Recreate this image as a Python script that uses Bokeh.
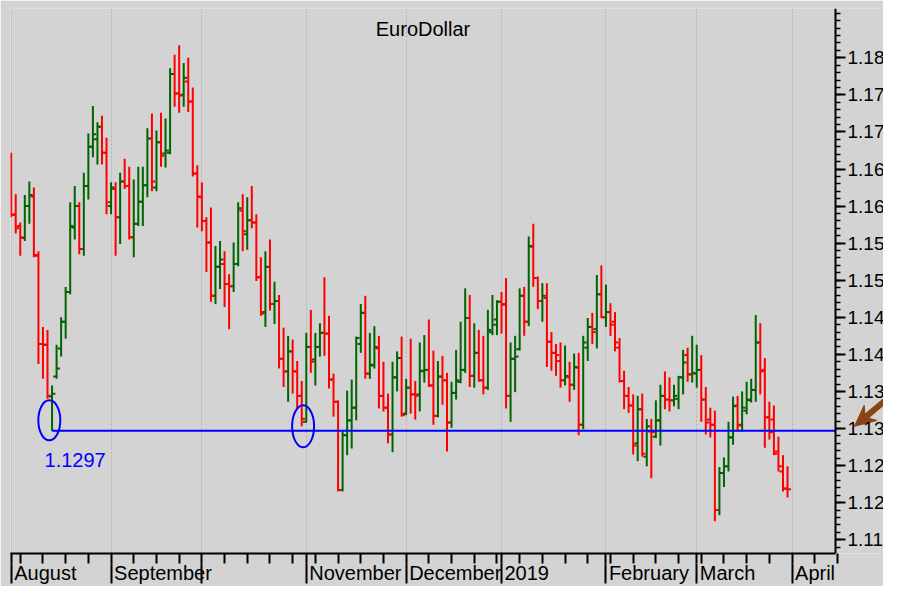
import numpy as np
import pandas as pd
from bokeh.plotting import figure
from bokeh.models import (Range1d, LinearAxis, FixedTicker, Grid, Label, ColumnDataSource)
from bokeh.embed import file_html
from bokeh.resources import INLINE

# ---------------- data ----------------
title_text = "EuroDollar"
first_day = "2018-08-02"

opens = [1.1667, 1.1589, 1.1573, 1.1557, 1.1600, 1.1613, 1.1533, 1.1414, 1.1413, 1.1343,
         1.1370, 1.1408, 1.1444, 1.1484, 1.1571, 1.1600, 1.1542, 1.1627, 1.1680, 1.1690,
         1.1707, 1.1672, 1.1600, 1.1623, 1.1585, 1.1633, 1.1627, 1.1558, 1.1576, 1.1606,
         1.1628, 1.1691, 1.1625, 1.1686, 1.1671, 1.1672, 1.1778, 1.1752, 1.1750, 1.1768,
         1.1741, 1.1644, 1.1612, 1.1580, 1.1551, 1.1479, 1.1518, 1.1522, 1.1495, 1.1492,
         1.1522, 1.1594, 1.1562, 1.1581, 1.1578, 1.1504, 1.1457, 1.1518, 1.1468, 1.1472,
         1.1394, 1.1377, 1.1404, 1.1377, 1.1344, 1.1309, 1.1410, 1.1393, 1.1410, 1.1429,
         1.1428, 1.1366, 1.1336, 1.1217, 1.1291, 1.1311, 1.1328, 1.1414, 1.1456, 1.1374,
         1.1385, 1.1408, 1.1344, 1.1328, 1.1292, 1.1369, 1.1395, 1.1320, 1.1355, 1.1346,
         1.1346, 1.1378, 1.1379, 1.1358, 1.1317, 1.1370, 1.1365, 1.1308, 1.1348, 1.1363,
         1.1379, 1.1449, 1.1371, 1.1402, 1.1365, 1.1355, 1.1430, 1.1447, 1.1471, 1.1468,
         1.1344, 1.1394, 1.1407, 1.1479, 1.1444, 1.1545, 1.1503, 1.1472, 1.1476, 1.1417,
         1.1402, 1.1391, 1.1365, 1.1369, 1.1359, 1.1382, 1.1305, 1.1409, 1.1437, 1.1434,
         1.1481, 1.1450, 1.1457, 1.1444, 1.1409, 1.1364, 1.1344, 1.1331, 1.1280, 1.1326,
         1.1262, 1.1296, 1.1289, 1.1311, 1.1344, 1.1339, 1.1338, 1.1340, 1.1369, 1.1399,
         1.1373, 1.1374, 1.1379, 1.1339, 1.1312, 1.1305, 1.1190, 1.1240, 1.1249, 1.1288,
         1.1331, 1.1305, 1.1324, 1.1338, 1.1352, 1.1416, 1.1379, 1.1315, 1.1312, 1.1269,
         1.1242, 1.1219]
highs = [1.1672, 1.1616, 1.1578, 1.1615, 1.1633, 1.1625, 1.1539, 1.1437, 1.1433, 1.1358,
         1.1413, 1.1450, 1.1491, 1.1605, 1.1627, 1.1605, 1.1645, 1.1698, 1.1735, 1.1713,
         1.1722, 1.1692, 1.1632, 1.1632, 1.1645, 1.1664, 1.1653, 1.1636, 1.1653, 1.1653,
         1.1705, 1.1725, 1.1702, 1.1726, 1.1718, 1.1786, 1.1804, 1.1817, 1.1793, 1.1800,
         1.1760, 1.1655, 1.1632, 1.1585, 1.1598, 1.1546, 1.1553, 1.1539, 1.1508, 1.1551,
         1.1605, 1.1616, 1.1612, 1.1627, 1.1589, 1.1531, 1.1539, 1.1555, 1.1498, 1.1480,
         1.1436, 1.1425, 1.1420, 1.1391, 1.1364, 1.1429, 1.1460, 1.1429, 1.1442, 1.1504,
         1.1452, 1.1374, 1.1338, 1.1296, 1.1351, 1.1366, 1.1424, 1.1468, 1.1479, 1.1429,
         1.1438, 1.1425, 1.1390, 1.1347, 1.1390, 1.1404, 1.1424, 1.1367, 1.1421, 1.1364,
         1.1416, 1.1426, 1.1447, 1.1405, 1.1391, 1.1398, 1.1375, 1.1363, 1.1406, 1.1444,
         1.1489, 1.1480, 1.1442, 1.1433, 1.1425, 1.1460, 1.1480, 1.1473, 1.1484, 1.1503,
         1.1416, 1.1425, 1.1489, 1.1491, 1.1559, 1.1576, 1.1505, 1.1496, 1.1496, 1.1430,
         1.1414, 1.1416, 1.1412, 1.1390, 1.1401, 1.1402, 1.1425, 1.1449, 1.1456, 1.1507,
         1.1520, 1.1494, 1.1469, 1.1457, 1.1422, 1.1378, 1.1356, 1.1346, 1.1344, 1.1347,
         1.1313, 1.1313, 1.1338, 1.1359, 1.1377, 1.1369, 1.1359, 1.1371, 1.1406, 1.1409,
         1.1425, 1.1413, 1.1399, 1.1356, 1.1328, 1.1324, 1.1248, 1.1261, 1.1309, 1.1343,
         1.1344, 1.1350, 1.1363, 1.1367, 1.1453, 1.1442, 1.1395, 1.1336, 1.1331, 1.1289,
         1.1264, 1.1249]
lows = [1.1585, 1.1563, 1.1533, 1.1553, 1.1576, 1.1531, 1.1387, 1.1367, 1.1340, 1.1297,
        1.1367, 1.1397, 1.1421, 1.1481, 1.1555, 1.1535, 1.1533, 1.1609, 1.1666, 1.1656,
        1.1656, 1.1589, 1.1589, 1.1533, 1.1549, 1.1623, 1.1555, 1.1531, 1.1573, 1.1573,
        1.1612, 1.1620, 1.1620, 1.1653, 1.1652, 1.1670, 1.1734, 1.1726, 1.1734, 1.1727,
        1.1640, 1.1571, 1.1566, 1.1511, 1.1471, 1.1468, 1.1488, 1.1464, 1.1434, 1.1484,
        1.1519, 1.1539, 1.1541, 1.1570, 1.1499, 1.1452, 1.1437, 1.1459, 1.1441, 1.1381,
        1.1356, 1.1336, 1.1347, 1.1327, 1.1303, 1.1308, 1.1375, 1.1358, 1.1397, 1.1398,
        1.1354, 1.1316, 1.1215, 1.1215, 1.1264, 1.1273, 1.1311, 1.1402, 1.1367, 1.1367,
        1.1381, 1.1327, 1.1323, 1.1280, 1.1268, 1.1350, 1.1316, 1.1318, 1.1320, 1.1312,
        1.1323, 1.1362, 1.1356, 1.1305, 1.1315, 1.1332, 1.1269, 1.1301, 1.1339, 1.1361,
        1.1375, 1.1356, 1.1355, 1.1363, 1.1346, 1.1352, 1.1426, 1.1426, 1.1428, 1.1327,
        1.1309, 1.1349, 1.1405, 1.1425, 1.1438, 1.1491, 1.1461, 1.1444, 1.1383, 1.1378,
        1.1371, 1.1355, 1.1358, 1.1336, 1.1352, 1.1291, 1.1299, 1.1391, 1.1414, 1.1408,
        1.1449, 1.1437, 1.1425, 1.1404, 1.1362, 1.1326, 1.1321, 1.1265, 1.1256, 1.1262,
        1.1249, 1.1233, 1.1287, 1.1277, 1.1326, 1.1323, 1.1330, 1.1326, 1.1346, 1.1363,
        1.1362, 1.1355, 1.1309, 1.1292, 1.1288, 1.1175, 1.1183, 1.1221, 1.1242, 1.1278,
        1.1296, 1.1296, 1.1319, 1.1335, 1.1336, 1.1346, 1.1274, 1.1285, 1.1264, 1.1242,
        1.1215, 1.1207]
closes = [1.1588, 1.1570, 1.1558, 1.1600, 1.1615, 1.1534, 1.1414, 1.1413, 1.1344, 1.1347,
          1.1381, 1.1444, 1.1484, 1.1573, 1.1600, 1.1542, 1.1627, 1.1680, 1.1697, 1.1707,
          1.1672, 1.1605, 1.1625, 1.1585, 1.1633, 1.1627, 1.1558, 1.1576, 1.1606, 1.1628,
          1.1691, 1.1633, 1.1686, 1.1668, 1.1675, 1.1778, 1.1752, 1.1749, 1.1773, 1.1741,
          1.1644, 1.1613, 1.1580, 1.1551, 1.1479, 1.1518, 1.1528, 1.1495, 1.1492, 1.1522,
          1.1597, 1.1566, 1.1581, 1.1578, 1.1504, 1.1455, 1.1518, 1.1468, 1.1472, 1.1394,
          1.1377, 1.1404, 1.1377, 1.1344, 1.1313, 1.1410, 1.1390, 1.1410, 1.1429, 1.1428,
          1.1366, 1.1336, 1.1217, 1.1291, 1.1311, 1.1328, 1.1422, 1.1456, 1.1374, 1.1386,
          1.1410, 1.1344, 1.1328, 1.1292, 1.1369, 1.1395, 1.1318, 1.1355, 1.1346, 1.1344,
          1.1377, 1.1379, 1.1358, 1.1317, 1.1370, 1.1365, 1.1308, 1.1348, 1.1365, 1.1379,
          1.1449, 1.1371, 1.1402, 1.1365, 1.1355, 1.1433, 1.1440, 1.1471, 1.1467, 1.1344,
          1.1394, 1.1397, 1.1479, 1.1444, 1.1546, 1.1503, 1.1472, 1.1479, 1.1417, 1.1402,
          1.1399, 1.1365, 1.1371, 1.1359, 1.1383, 1.1305, 1.1416, 1.1437, 1.1430, 1.1481,
          1.1450, 1.1457, 1.1440, 1.1416, 1.1364, 1.1344, 1.1331, 1.1277, 1.1326, 1.1266,
          1.1303, 1.1295, 1.1311, 1.1344, 1.1339, 1.1338, 1.1344, 1.1369, 1.1389, 1.1373,
          1.1375, 1.1379, 1.1339, 1.1308, 1.1305, 1.1190, 1.1240, 1.1249, 1.1288, 1.1330,
          1.1304, 1.1328, 1.1339, 1.1352, 1.1416, 1.1377, 1.1315, 1.1295, 1.1266, 1.1249,
          1.1219, 1.1218]

support_level = 1.1297
support_text = "1.1297"
support_from_bar = 9
circle_x = [8.4, 64.3]
circle_y = [1.1311, 1.1303]
circle_h = [40, 42]
arrow_price = 1.1303

month_labels = ["August", "September", "", "November", "December", "2019",
                "February", "March", "April"]
y_tick_values = [1.115, 1.12, 1.125, 1.13, 1.135, 1.14, 1.145, 1.15, 1.155,
                 1.16, 1.165, 1.17, 1.175, 1.18]
y_tick_labels = ["1.11", "1.12", "1.12", "1.13", "1.13", "1.14", "1.14", "1.15", "1.15",
                 "1.16", "1.16", "1.17", "1.17", "1.18"]

# ---------------- style / layout ----------------
UP, DOWN = "#006400", "#FF0000"
BG = "#D3D3D3"
BLUE = "#0000FF"
BROWN = "#8B4513"
FONT = "Liberation Sans"
MONTH_FS = 20
Y_FS = 19

# Liberation Sans (Arial metrics) advance widths, per 1000 em
CHAR_W = {c: 556 for c in "abdeghnopqu0123456789"}
CHAR_W.update({"c": 500, "k": 500, "s": 500, "v": 500, "x": 500, "y": 500, "z": 500,
               "f": 278, "t": 278, "i": 222, "j": 222, "l": 222, "r": 333, "m": 833,
               "w": 722, "A": 667, "D": 722, "F": 611, "J": 500, "M": 833, "N": 722,
               "O": 778, "S": 667})


def text_px(s, size):
    return sum(CHAR_W.get(ch, 556) for ch in s) * size / 1000.0


n = len(closes)
calendar = pd.bdate_range(first_day, periods=n + 12)
month_starts = [i for i in range(len(calendar))
                if i == 0 or calendar[i].month != calendar[i - 1].month]
mondays = [i for i, d in enumerate(calendar) if d.weekday() == 0 and i not in month_starts]

PX_PER_BAR = 4.54
PX_PER_PRICE = 7441.0
W, H = 883, 586
WEEK_TICK = 10
SEP_REST = 20
LABEL_STANDOFF = -22
B_L, B_R, B_T = 10, 0, 8
B_B = WEEK_TICK + SEP_REST + LABEL_STANDOFF + 23
frame_w = W - B_L - B_R
frame_h = H - B_T - B_B
x_start = -0.15
x_end = x_start + frame_w / PX_PER_BAR
axis_x = x_start + 825 / PX_PER_BAR          # price axis drawn inside the frame
y_hi = 1.18665
y_lo = y_hi - frame_h / PX_PER_PRICE

p = figure(width=W, height=H, x_range=Range1d(x_start, x_end), y_range=Range1d(y_lo, y_hi),
           x_axis_type=None, y_axis_type=None, output_backend="svg", toolbar_location=None,
           min_border_left=B_L, min_border_right=B_R, min_border_top=B_T, min_border_bottom=B_B,
           background_fill_color=BG, border_fill_color=BG, outline_line_color=None)

# bottom axis 1: axis line, weekly ticks and the top part of the month separators
tick_axis = LinearAxis(ticker=FixedTicker(ticks=[], minor_ticks=sorted(mondays + month_starts)),
                       bounds=(x_start, axis_x),
                       major_label_standoff=0, axis_line_width=2, axis_line_color="black",
                       major_tick_in=0, major_tick_out=0,
                       minor_tick_in=0, minor_tick_out=WEEK_TICK, minor_tick_line_width=2,
                       minor_tick_line_color="black")
p.add_layout(tick_axis, "below")

# bottom axis 2: rest of the month separators and the month names
label_pos, label_map = [], {}
for i, name in zip(month_starts, month_labels):
    if name:
        c = round(i + (3 + text_px(name, MONTH_FS) / 2) / PX_PER_BAR, 3)
        label_pos.append(c)
        label_map[c] = name
month_axis = LinearAxis(ticker=FixedTicker(ticks=label_pos, minor_ticks=month_starts),
                        bounds=(x_start, axis_x),
                        major_label_overrides=label_map,
                        major_label_text_font=FONT, major_label_text_font_size=f"{MONTH_FS}px",
                        major_label_text_color="black", major_label_standoff=LABEL_STANDOFF,
                        axis_line_color=None, major_tick_line_color=None,
                        major_tick_in=0, major_tick_out=0,
                        minor_tick_in=0, minor_tick_out=SEP_REST, minor_tick_line_width=2,
                        minor_tick_line_color="black")
p.add_layout(month_axis, "below")

# dotted month grid
p.add_layout(Grid(dimension=0, ticker=FixedTicker(ticks=month_starts),
                  grid_line_color="#b2b2b2", grid_line_dash="2 2", grid_line_width=1))

# right price axis, fixed at the right end of the chart area
y_minor = [round(v, 3) for v in np.arange(1.114, 1.1865, 0.001)]
yticker = FixedTicker(ticks=y_tick_values, minor_ticks=y_minor)
yaxis = LinearAxis(ticker=yticker, fixed_location=axis_x,
                   major_label_overrides={v: t for v, t in zip(y_tick_values, y_tick_labels)},
                   major_label_text_font=FONT, major_label_text_font_size=f"{Y_FS}px",
                   major_label_text_color="black", major_label_standoff=2,
                   axis_line_width=2, axis_line_color="black",
                   major_tick_in=0, major_tick_out=10, major_tick_line_width=2,
                   minor_tick_in=0, minor_tick_out=5, minor_tick_line_width=1.5)
p.add_layout(yaxis, "right")

# OHLC bars
idx = np.arange(n)
src = ColumnDataSource(dict(
    x=idx, xl=idx - 0.75, xr=idx + 0.75,
    o=opens, h=highs, l=lows, c=closes,
    color=[UP if c >= o else DOWN for o, c in zip(opens, closes)],
))
p.segment("x", "h", "x", "l", line_color="color", line_width=2, source=src)
p.segment("xl", "o", "x", "o", line_color="color", line_width=2, source=src)
p.segment("x", "c", "xr", "c", line_color="color", line_width=2, source=src)

# support line, circles and label
p.segment(x0=[support_from_bar], y0=[support_level], x1=[axis_x], y1=[support_level],
          line_color=BLUE, line_width=2)
p.ellipse(x=circle_x, y=circle_y, width=22, height=circle_h,
          width_units="screen", height_units="screen",
          fill_color=None, line_color=BLUE, line_width=2)
p.add_layout(Label(x=support_from_bar, y=support_level, x_offset=-7.5, y_offset=-29,
                   text=support_text, text_color=BLUE, text_font=FONT, text_font_size="20px",
                   text_align="left", text_baseline="alphabetic"))

# title inside the chart area
p.add_layout(Label(x=(x_start + axis_x) / 2, y=y_hi, y_offset=-20, text=title_text,
                   text_color="black", text_font=FONT, text_font_size="20px",
                   text_align="center", text_baseline="alphabetic"))

# brown arrow pointing at the 1.13 price label (built in screen pixels, then mapped)
ang = np.deg2rad(40)
d = np.array([np.cos(ang), -np.sin(ang)])       # from tip towards tail, screen coords
perp = np.array([np.sin(ang), np.cos(ang)])
tip = np.array([0.0, 0.0])
tip_x0 = axis_x + 19 / PX_PER_BAR


def to_data(pt):
    return tip_x0 + pt[0] / PX_PER_BAR, arrow_price - pt[1] / PX_PER_PRICE


head = [tip, tip + 21 * d + 10 * perp, tip + 14 * d, tip + 21 * d - 10 * perp]
hx, hy = zip(*[to_data(pt) for pt in head])
p.patch(list(hx), list(hy), fill_color=BROWN, line_color=BROWN, line_width=1)
s0, s1 = to_data(tip + 12 * d), to_data(tip + 60 * d)
p.segment(x0=[s0[0]], y0=[s0[1]], x1=[s1[0]], y1=[s1[1]], line_color=BROWN, line_width=6)

open("out.html", "w").write(file_html(p, INLINE))
